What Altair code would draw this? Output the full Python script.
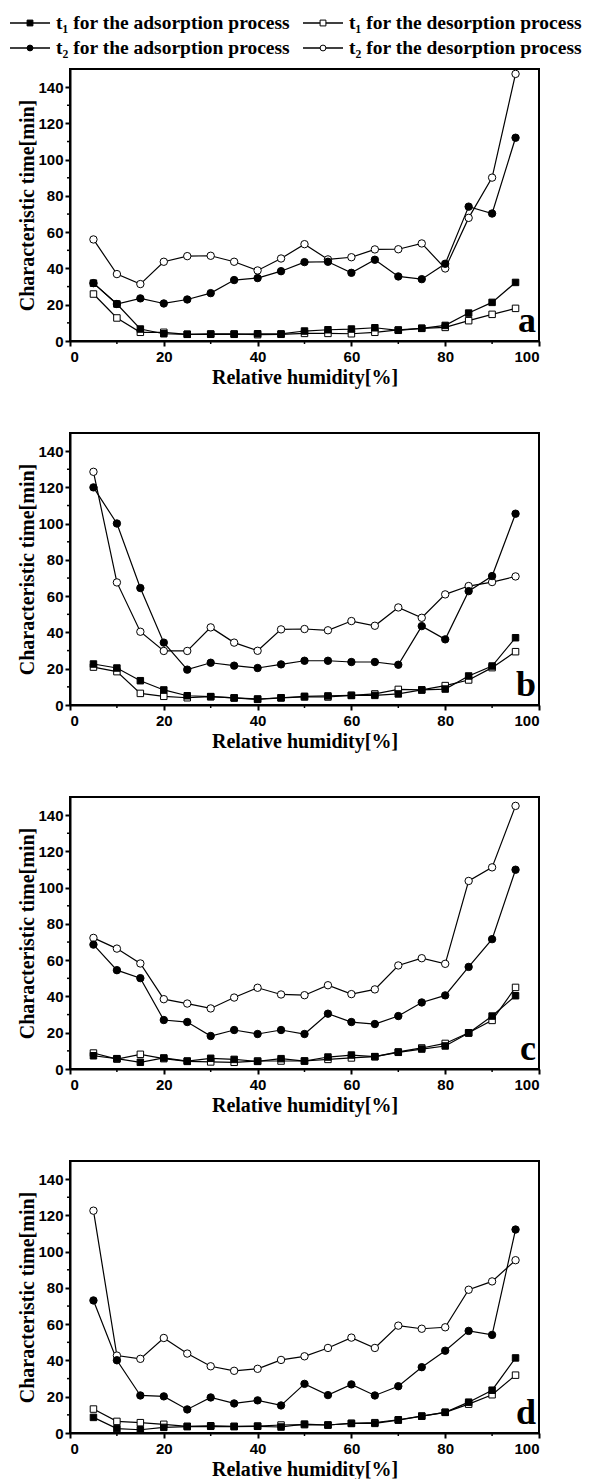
import altair as alt
import pandas as pd

# ---------------- data ----------------
rh = [5, 10, 15, 20, 25, 30, 35, 40, 45, 50, 55, 60, 65, 70, 75, 80, 85, 90, 95]

series_keys = ["t1_ads", "t1_des", "t2_ads", "t2_des"]
legend_labels = [
    "t\u2081 for the adsorption process",
    "t\u2081 for the desorption process",
    "t\u2082 for the adsorption process",
    "t\u2082 for the desorption process",
]

# panel a
a_t1_ads = [31.9, 20.4, 6.6, 4.0, 3.7, 3.7, 3.7, 4.0, 3.9, 5.5, 6.2, 6.6, 7.3, 5.9, 7.0, 8.6, 15.4, 21.3, 32.3]
a_t1_des = [25.9, 12.7, 4.8, 4.8, 3.7, 3.9, 3.9, 3.5, 3.7, 4.2, 4.2, 4.0, 4.8, 6.1, 7.0, 7.5, 11.2, 14.7, 18.0]
a_t2_ads = [31.9, 20.4, 23.5, 20.7, 22.9, 26.4, 33.6, 34.7, 38.5, 43.5, 43.7, 37.6, 44.8, 35.6, 34.1, 42.6, 74.1, 70.3, 112.1]
a_t2_des = [56.0, 36.9, 31.4, 43.7, 46.8, 47.0, 43.7, 38.9, 45.5, 53.4, 45.0, 46.2, 50.5, 50.6, 53.8, 40.0, 67.9, 90.1, 147.3]

# panel b
b_t1_ads = [22.6, 20.4, 13.4, 8.3, 5.1, 4.6, 3.9, 3.3, 4.0, 4.8, 5.0, 5.3, 5.3, 6.1, 8.3, 8.8, 16.0, 21.5, 37.1]
b_t1_des = [20.9, 18.4, 6.4, 4.8, 4.0, 4.6, 3.9, 3.1, 3.9, 4.4, 4.4, 5.3, 6.1, 8.6, 8.3, 10.7, 13.8, 20.6, 29.4]
b_t2_ads = [120.0, 100.1, 64.5, 34.4, 19.5, 23.3, 21.7, 20.4, 22.4, 24.4, 24.4, 23.7, 23.7, 22.2, 43.5, 36.2, 62.8, 71.1, 105.5]
b_t2_des = [128.6, 67.6, 40.4, 29.8, 29.8, 42.8, 34.4, 29.9, 41.7, 41.9, 41.2, 46.3, 43.7, 53.8, 48.1, 61.0, 65.6, 67.8, 70.9]

# panel c
c_t1_ads = [7.3, 5.7, 3.7, 6.1, 4.4, 5.9, 5.3, 4.2, 5.7, 4.4, 6.6, 7.7, 6.8, 9.2, 11.0, 12.7, 19.8, 29.2, 40.4]
c_t1_des = [8.8, 5.5, 8.1, 5.7, 4.2, 3.9, 3.7, 4.4, 4.4, 4.4, 5.3, 6.1, 6.8, 9.4, 11.6, 14.1, 20.0, 26.8, 45.0]
c_t2_ads = [68.6, 54.5, 50.1, 27.0, 25.9, 18.2, 21.5, 19.3, 21.5, 19.3, 30.5, 25.9, 24.8, 29.2, 36.7, 40.6, 56.3, 71.6, 109.9]
c_t2_des = [72.3, 66.4, 58.2, 38.5, 36.1, 33.4, 39.4, 44.8, 41.1, 40.7, 46.2, 41.3, 43.9, 57.1, 61.1, 58.0, 103.7, 111.2, 145.1]

# panel d
d_t1_ads = [8.6, 2.4, 1.8, 3.1, 3.5, 3.7, 3.5, 3.7, 3.3, 4.9, 4.4, 5.3, 5.3, 7.1, 9.3, 11.4, 17.0, 23.6, 41.4]
d_t1_des = [13.2, 6.4, 5.7, 4.8, 3.7, 4.0, 3.7, 3.8, 4.4, 4.6, 4.4, 5.3, 5.7, 7.3, 9.3, 11.4, 15.9, 21.1, 31.9]
d_t2_ads = [73.1, 40.1, 20.7, 20.2, 13.0, 19.6, 16.3, 18.0, 15.2, 27.1, 20.9, 26.8, 20.7, 25.8, 36.3, 45.4, 56.3, 54.1, 112.2]
d_t2_des = [122.6, 42.7, 40.9, 52.4, 43.8, 36.8, 34.3, 35.4, 40.3, 42.3, 46.9, 52.6, 46.9, 59.2, 57.5, 58.3, 79.0, 83.6, 95.3]

x_ticks = [0, 20, 40, 60, 80, 100]
x_minor = [10, 30, 50, 70, 90]
y_ticks = [0, 20, 40, 60, 80, 100, 120, 140]
y_minor = [10, 30, 50, 70, 90, 110, 130]

# ---------------- styling ----------------
W, H = 469, 272
SERIF = "Liberation Serif"
SANS = "Liberation Sans"

shape_of = {"t1_ads": "square", "t1_des": "square", "t2_ads": "circle", "t2_des": "circle"}
fill_of = {"t1_ads": "black", "t1_des": "white", "t2_ads": "black", "t2_des": "white"}
size_of = {"t1_ads": 42, "t1_des": 42, "t2_ads": 55, "t2_des": 55}

# legend layout (pixels relative to the top-left of panel a's plot area)
LEG_X0, LEG_COL = -60, 293
LEG_Y0, LEG_ROW = -46, 25
LEG_SYM_W = 40


def legend_layers():
    out = []
    one = pd.DataFrame({"k": [0]})
    for i, key in enumerate(series_keys):
        col, row = i % 2, i // 2
        x0 = LEG_X0 + col * LEG_COL
        y0 = LEG_Y0 + row * LEG_ROW
        out.append(
            alt.Chart(one).mark_rule(color="black", strokeWidth=1.3).encode(
                x=alt.value(x0), x2=alt.value(x0 + LEG_SYM_W), y=alt.value(y0)
            )
        )
        out.append(
            alt.Chart(one).mark_point(
                shape=shape_of[key], filled=True, fill=fill_of[key], stroke="black",
                strokeWidth=1, size=34, opacity=1,
            ).encode(x=alt.value(x0 + LEG_SYM_W / 2), y=alt.value(y0))
        )
        out.append(
            alt.Chart(pd.DataFrame({"lbl": [legend_labels[i]]})).mark_text(
                font=SERIF, fontWeight="bold", fontSize=19.5, align="left",
                baseline="middle", color="black",
            ).encode(text="lbl:N", x=alt.value(x0 + LEG_SYM_W + 6), y=alt.value(y0))
        )
    return out


def panel(t1a, t1d, t2a, t2d, letter, with_legend):
    rows = []
    for key, vals in zip(series_keys, [t1a, t1d, t2a, t2d]):
        for x, v in zip(rh, vals):
            rows.append({"rh": x, "t": v, "series": key})
    df = pd.DataFrame(rows)

    xenc = alt.X(
        "rh:Q",
        scale=alt.Scale(domain=[0, 100], nice=False, zero=False),
        axis=alt.Axis(values=x_ticks, title="Relative humidity[%]", format="d"),
    )
    yenc = alt.Y(
        "t:Q",
        scale=alt.Scale(domain=[0, 150], nice=False),
        axis=alt.Axis(values=y_ticks, title="Characteristic time[min]", format="d"),
    )

    base = alt.Chart(df)
    layers = [
        base.mark_line(color="black", strokeWidth=1.2).encode(
            x=xenc, y=yenc, detail="series:N"
        )
    ]
    for key in ["t2_des", "t2_ads", "t1_des", "t1_ads"]:
        layers.append(
            base.transform_filter(alt.datum.series == key)
            .mark_point(
                shape=shape_of[key],
                filled=True,
                fill=fill_of[key],
                stroke="black",
                strokeWidth=1,
                size=size_of[key],
                opacity=1,
            )
            .encode(x=xenc, y=yenc)
        )

    # minor ticks
    layers.append(
        alt.Chart(pd.DataFrame({"t": y_minor}))
        .mark_rule(color="black", strokeWidth=1.5)
        .encode(y=yenc, x=alt.value(-3), x2=alt.value(0))
    )
    layers.append(
        alt.Chart(pd.DataFrame({"rh": x_minor}))
        .mark_rule(color="black", strokeWidth=1.5)
        .encode(x=xenc, y=alt.value(H), y2=alt.value(H + 3))
    )

    # panel letter
    layers.append(
        alt.Chart(pd.DataFrame({"lbl": [letter]}))
        .mark_text(font=SERIF, fontWeight="bold", fontSize=36, align="right",
                   baseline="alphabetic", color="black")
        .encode(text="lbl:N", x=alt.value(W - 3), y=alt.value(H - 9))
    )

    if with_legend:
        layers.extend(legend_layers())

    return alt.layer(*layers).properties(width=W, height=H)


chart = (
    alt.vconcat(
        panel(a_t1_ads, a_t1_des, a_t2_ads, a_t2_des, "a", True),
        panel(b_t1_ads, b_t1_des, b_t2_ads, b_t2_des, "b", False),
        panel(c_t1_ads, c_t1_des, c_t2_ads, c_t2_des, "c", False),
        panel(d_t1_ads, d_t1_des, d_t2_ads, d_t2_des, "d", False),
        spacing=44,
    )
    .configure_view(stroke="black", strokeWidth=2)
    .configure_axis(
        grid=False,
        domainColor="black",
        domainWidth=2,
        tickColor="black",
        tickWidth=2,
        tickSize=5,
        labelFont=SANS,
        labelFontWeight="bold",
        labelFontSize=15,
        labelColor="black",
        titleFont=SERIF,
        titleFontWeight="bold",
        titleFontSize=20,
        titleColor="black",
    )
    .configure_axisY(labelPadding=2, titlePadding=0)
    .configure_axisX(labelPadding=3, titlePadding=3)
    .properties(background="white", padding={"left": 0, "top": 4, "right": 0, "bottom": 0})
)

chart.save("out.html", embed_options={"renderer": "svg", "actions": False})
